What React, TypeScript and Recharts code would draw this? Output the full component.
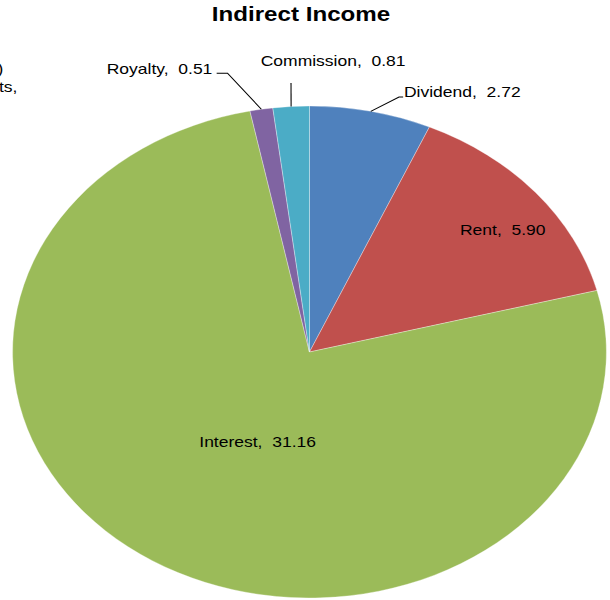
import { PieChart, Pie, Cell } from "recharts";

// slices, clockwise from 12 o'clock
const names = ["Dividend", "Rent", "Interest", "Royalty", "Commission"];
const values = [2.72, 5.9, 31.16, 0.51, 0.81];
const colors = ["#4F81BD", "#C0504D", "#9BBB59", "#8064A2", "#4BACC6"];

// the zero-value item whose label is cut off at the left edge
const otherLines = ["Miscellaneous (Profit on Sale)", "of Fixed Assets,"];
const otherValue = 0;

const title = "Indirect Income";

const data = names.map((name, i) => ({ name, value: values[i] }));

// the picture is stretched sideways; draw at natural width and scale it
const STRETCH = 1.207;
const W = 505;
const H = 600;
const FONT = "'Liberation Sans', Arial, sans-serif";
const RAD = Math.PI / 180;

// label anchors (text start x, baseline y) and leader elbows
const labelLayout: Record<string, { x: number; y: number; elbow?: [number, number][] }> = {
  Dividend: { x: 334.7, y: 97.5, elbow: [[330.6, 97], [334, 97]] },
  Rent: { x: 381.1, y: 235 },
  Interest: { x: 165.1, y: 447 },
  Royalty: { x: 88.4, y: 74, elbow: [[188.5, 73.3], [179.5, 73.3]] },
  Commission: { x: 216, y: 66.5, elbow: [[241.1, 83]] },
};

const renderLabel = (props: any) => {
  const { cx, cy, midAngle, outerRadius, name, value } = props;
  const pos = labelLayout[name];
  if (!pos) return null;
  const ex = cx + outerRadius * Math.cos(-midAngle * RAD);
  const ey = cy + outerRadius * Math.sin(-midAngle * RAD);
  const pts = pos.elbow ? [[ex, ey], ...pos.elbow] : null;
  return (
    <g>
      {pts && (
        <polyline
          points={pts.map((p) => p.join(",")).join(" ")}
          fill="none"
          stroke="#000"
          strokeWidth={0.9}
        />
      )}
      <text x={pos.x} y={pos.y} fontSize={14.5} fontFamily={FONT} fill="#000">
        {`${name},\u00A0\u00A0${value.toFixed(2)}`}
      </text>
    </g>
  );
};

export default function App() {
  return (
    <div
      style={{
        position: "absolute",
        left: 0,
        top: 0,
        width: W,
        height: H,
        transform: `scaleX(${STRETCH})`,
        transformOrigin: "0 0",
        background: "#fff",
      }}
    >
      <PieChart width={W} height={H} margin={{ top: 0, right: 0, bottom: 0, left: 0 }}>
        <text
          x={249.4}
          y={21}
          textAnchor="middle"
          fontSize={20}
          fontWeight="bold"
          fontFamily={FONT}
          fill="#000"
        >
          {title}
        </text>
        <text fontSize={14.5} fontFamily={FONT} fill="#000" textAnchor="end">
          <tspan x={2.8} y={74}>
            {otherLines[0]}
          </tspan>
          <tspan x={14.4} y={92}>
            {otherLines[1]}
          </tspan>
          <tspan x={-40} y={110}>
            {otherValue.toFixed(2)}
          </tspan>
        </text>
        <Pie
          data={data}
          dataKey="value"
          nameKey="name"
          cx={256.4}
          cy={352}
          outerRadius={246}
          startAngle={90}
          endAngle={-270}
          stroke="#ffffff"
          strokeWidth={0.3}
          label={renderLabel}
          labelLine={false}
          isAnimationActive={false}
        >
          {data.map((d, i) => (
            <Cell key={d.name} fill={colors[i]} />
          ))}
        </Pie>
      </PieChart>
    </div>
  );
}
